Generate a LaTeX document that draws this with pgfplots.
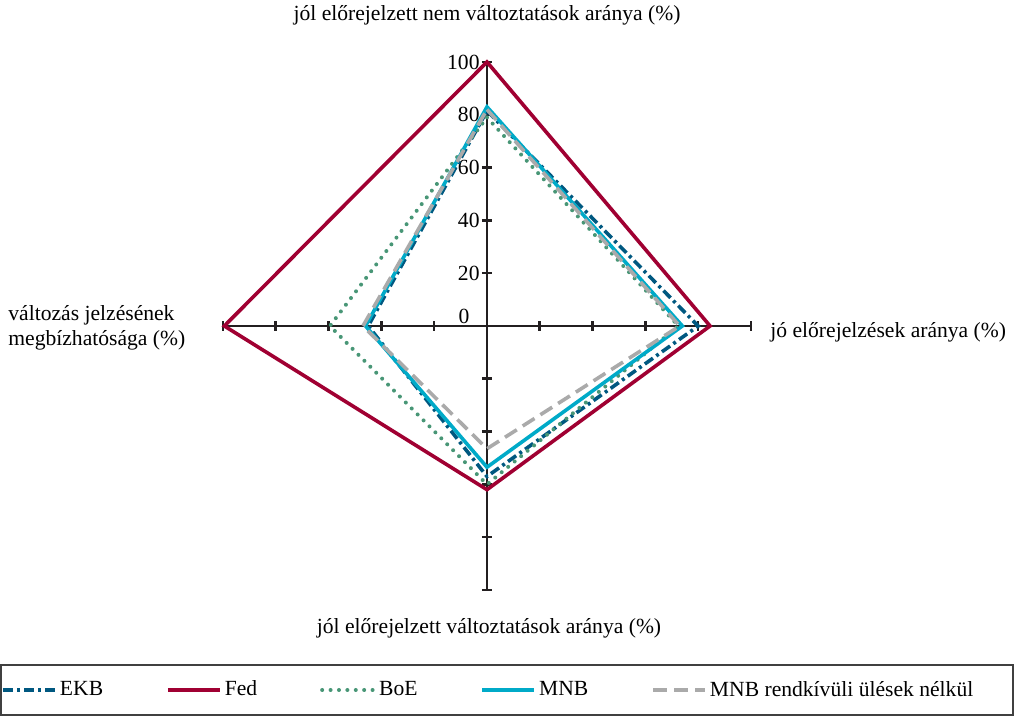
\documentclass[border=0pt]{standalone}
\usepackage{fontspec}
\setmainfont{Liberation Serif}
\usepackage{pgfplots}
\pgfplotsset{compat=1.18}
\definecolor{ekb}{RGB}{0,88,128}
\definecolor{fed}{RGB}{160,0,50}
\definecolor{boe}{RGB}{72,150,118}
\definecolor{mnb}{RGB}{0,170,200}
\definecolor{mnbg}{RGB}{170,170,170}
\definecolor{axc}{RGB}{35,31,32}
\begin{document}
\begin{tikzpicture}[font=\fontsize{10.8}{12.5}\selectfont]
\begin{axis}[
  scale only axis, width=264pt, height=264pt,
  xmin=-100, xmax=100, ymin=-100, ymax=100,
  axis lines=middle,
  axis line style={-, line width=1.2pt, axc},
  xtick={-100,-80,...,100}, ytick={-100,-80,...,100},
  xticklabels={},
  yticklabels={,,,,,,20,40,60,80,100},
  tick align=center, major tick length=5pt,
  tick style={line width=1.3pt, axc},
  yticklabel style={anchor=east, inner xsep=1pt},
  /pgf/number format/assume math mode=true,
  clip=false,
  legend columns=5,
  legend style={at={(-0.4205,-0.1894)}, anchor=west, draw=none, fill=none,
    inner xsep=0pt, column sep=0pt, nodes={inner xsep=1.5pt},
    /tikz/every even column/.append style={column sep=30pt},
    font=\fontsize{10.8}{12.5}\selectfont},
  legend image code/.code={\draw[#1] (0pt,0pt) -- (26pt,0pt);},
]
\addplot[ekb, line width=1.8pt, dash pattern=on 5pt off 2pt on 1.5pt off 2pt]
  coordinates {(0,81.5) (80,0) (0,-57) (-45,0)} -- cycle;
\addlegendentry{EKB}
\addplot[fed, line width=1.8pt]
  coordinates {(0,100) (84.5,0) (0,-62) (-99.5,0)} -- cycle;
\addlegendentry{Fed}
\addplot[boe, line width=2pt, line cap=round, dash pattern=on 0pt off 4.2pt]
  coordinates {(0,79) (72.5,0) (0,-60) (-59.5,0)} -- cycle;
\addlegendentry{BoE}
\addplot[mnb, line width=1.8pt]
  coordinates {(0,83) (74,0) (0,-53.5) (-46,0)} -- cycle;
\addlegendentry{MNB}
\addplot[mnbg, line width=1.8pt, dash pattern=on 7pt off 3.5pt]
  coordinates {(0,82) (73,0) (0,-46.5) (-47,0)} -- cycle;
\addlegendentry{MNB rendkívüli ülések nélkül}
\end{axis}
\node at (120.5pt,137pt) {0};
\node at (132pt,287.5pt) {jól előrejelzett nem változtatások aránya (\%)};
\node[anchor=west, inner xsep=0pt] at (273.5pt,129pt) {jó előrejelzések aránya (\%)};
\node[anchor=west, align=left, inner xsep=0pt] at (-107.5pt,131pt) {változás jelzésének\\megbízhatósága (\%)};
\node at (133pt,-19pt) {jól előrejelzett változtatások aránya (\%)};
\draw[line width=1pt, black!75] (-111pt,-37.5pt) rectangle (395pt,-62.5pt);
\pgfresetboundingbox
\path[use as bounding box] (-111.5pt,-63pt) rectangle (395.5pt,295pt);
\end{tikzpicture}
\end{document}
